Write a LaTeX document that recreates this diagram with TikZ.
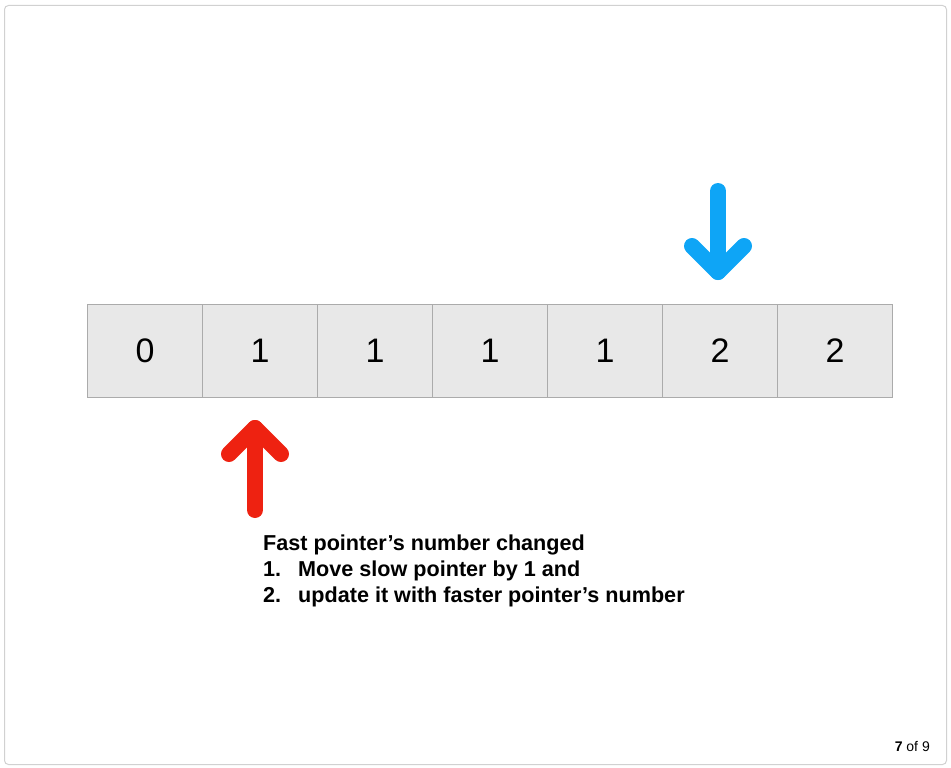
\documentclass[tikz,border=0pt]{standalone}
\usepackage{fontspec}
\setmainfont{Liberation Sans}
\begin{document}
\begin{tikzpicture}[x=1pt,y=-1pt,
  cell/.style={draw=black!33,fill=black!9,line width=1pt,minimum width=115pt,minimum height=93pt,inner sep=0pt,anchor=north west,font=\fontsize{34}{34}\selectfont},
  redarrow/.style={draw=ptred,line width=16pt,line cap=round,line join=round},
  bluearrow/.style={draw=ptblue,line width=16pt,line cap=round,line join=round},
  note/.style={anchor=north west,inner sep=0pt,font=\bfseries\fontsize{21.6}{26}\selectfont,align=left}]
\definecolor{ptred}{RGB}{238,34,17}
\definecolor{ptblue}{RGB}{14,165,246}
\useasboundingbox (0,0) rectangle (951,768);
\draw[rounded corners=4pt,draw=black!18,line width=1pt] (4.5,5.5) rectangle (946.5,764.5);
% array cells
\foreach \v [count=\i from 0] in {0,1,1,1,1,2,2}{
  \node[cell] (c\i) at ({87+115*\i},304) {\raisebox{-2pt}{\v}};
}
% red arrow (slow pointer)
\coordinate (rb) at (255,510);
\coordinate (rt) at (255,428);
\coordinate (rl) at (229,454);
\coordinate (rr) at (281,454);
\draw[redarrow] (rb) -- (rt);
\draw[redarrow] (rl) -- (rt) -- (rr);
% blue arrow (fast pointer)
\coordinate (bt) at (718,191);
\coordinate (bb) at (718,272);
\coordinate (bl) at (692,246);
\coordinate (br) at (744,246);
\draw[bluearrow] (bt) -- (bb);
\draw[bluearrow] (bl) -- (bb) -- (br);
% text
\node[note] (t) at (263,535) {Fast pointer’s number changed\\
1.\hspace{17pt}Move slow pointer by 1 and\\
2.\hspace{17pt}update it with faster pointer’s number};
\node[anchor=east,inner sep=0pt,font=\fontsize{14}{14}\selectfont] (pg) at (930,746) {\textbf{7} of 9};
\end{tikzpicture}
\end{document}
